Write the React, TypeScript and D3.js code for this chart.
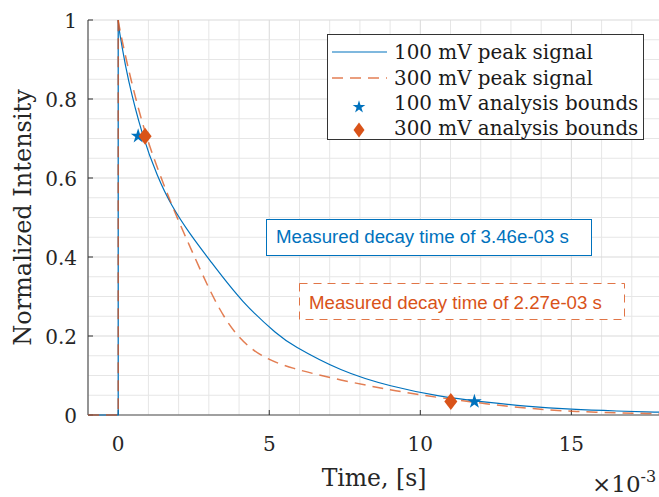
import React from "react";
import * as d3 from "d3";

// ---- data (time in ms units, ×10^-3 s) ----
const t100 = [0, 0.03, 0.11, 0.3, 0.8, 1.3, 1.74, 2.4, 3.0, 4.11, 5.33, 5.71, 7.37, 9.02, 10.68, 12.0, 13.5, 15.0, 16.5, 18.0];
const v100 = [1.0, 0.975, 0.94, 0.856, 0.705, 0.603, 0.532, 0.455, 0.395, 0.283, 0.2, 0.179, 0.110, 0.072, 0.046, 0.034, 0.022, 0.014, 0.010, 0.007];

const t300 = [0, 0.05, 0.39, 0.91, 1.41, 1.79, 2.57, 3.28, 3.93, 4.7, 5.71, 7.37, 9.02, 10.57, 13.0, 15.0, 18.0];
const v300 = [1.0, 0.975, 0.856, 0.705, 0.603, 0.527, 0.392, 0.274, 0.198, 0.148, 0.118, 0.088, 0.063, 0.044, 0.020, 0.008, 0.003];

// pre-trigger baseline (both signals)
const tPre = [-1, 0, 0];
const vPre = [0, 0, 1];

// analysis bounds markers
const bounds100T = [0.66, 11.79];
const bounds100V = [0.706, 0.034];
const bounds300T = [0.89, 11.01];
const bounds300V = [0.706, 0.034];

const xTicks = [0, 5, 10, 15];
const yTicks = [0, 0.2, 0.4, 0.6, 0.8, 1];
const yTickLabels = ["0", "0.2", "0.4", "0.6", "0.8", "1"];

const legendLabels = ["100 mV peak signal", "300 mV peak signal", "100 mV analysis bounds", "300 mV analysis bounds"];
const note100 = "Measured decay time of 3.46e-03 s";
const note300 = "Measured decay time of 2.27e-03 s";

const BLUE = "#0072BD";
const ORANGE = "#D95319";
const SERIF = "'DejaVu Serif', serif";
const SANS = "'Liberation Sans', Arial, sans-serif";

export default function App() {
  const W = 659, H = 497;
  const left = 88, right = 662, top = 20, bottom = 415;
  const x = d3.scaleLinear().domain([-1, 18]).range([left, right]);
  const y = d3.scaleLinear().domain([0, 1]).range([bottom, top]);

  const minorX = d3.range(-1, 19, 1);
  const minorY = d3.range(0, 1.0001, 0.05);

  const lineLin = d3.line<[number, number]>().x(d => x(d[0])).y(d => y(d[1]));
  const lineCurve = d3.line<[number, number]>().x(d => x(d[0])).y(d => y(d[1])).curve(d3.curveBasis);

  const pre: [number, number][] = tPre.map((t, i) => [t, vPre[i]]);
  const s100: [number, number][] = t100.map((t, i) => [t, v100[i]]);
  const s300: [number, number][] = t300.map((t, i) => [t, v300[i]]);

  const star = d3.symbol().type(d3.symbolStar).size(68)();
  const starLeg = d3.symbol().type(d3.symbolStar).size(50)();
  const diamond = (w: number, h: number) => `M0,${-h / 2}L${w / 2},0L0,${h / 2}L${-w / 2},0Z`;

  const legX = 327, legY = 34, legW = 316, legH = 105;
  const rowText = [59, 85, 110, 135];

  return (
    <svg width={W} height={H} style={{ position: "absolute", left: 0, top: 0, background: "#fff" }}>
      <defs>
        <clipPath id="plotclip">
          <rect x={left} y={top - 2} width={right - left} height={bottom - top + 4} />
        </clipPath>
      </defs>
      <rect x={0} y={0} width={W} height={H} fill="#fff" />
      {/* grid */}
      <g>
        {minorX.map(v => (
          <line key={"gx" + v} x1={x(v)} x2={x(v)} y1={top} y2={bottom} stroke={xTicks.includes(v) ? "#d9d9d9" : "#e6e6e6"} strokeWidth={1} />
        ))}
        {minorY.map((v, i) => (
          <line key={"gy" + i} x1={left} x2={right} y1={y(v)} y2={y(v)} stroke={i % 4 === 0 ? "#d9d9d9" : "#e6e6e6"} strokeWidth={1} />
        ))}
      </g>
      {/* axes */}
      <line x1={left} x2={left} y1={top} y2={bottom} stroke="#555" strokeWidth={1.2} />
      <line x1={left} x2={right} y1={bottom} y2={bottom} stroke="#555" strokeWidth={1.2} />
      {xTicks.map(v => (
        <line key={"xt" + v} x1={x(v)} x2={x(v)} y1={bottom} y2={bottom - 5} stroke="#333" strokeWidth={1} />
      ))}
      {yTicks.map(v => (
        <line key={"yt" + v} x1={left} x2={left + 5} y1={y(v)} y2={y(v)} stroke="#333" strokeWidth={1} />
      ))}
      {xTicks.map(v => (
        <text key={"xl" + v} x={x(v)} y={451} textAnchor="middle" fontFamily={SERIF} fontSize={20} fill="#262626">{v}</text>
      ))}
      {yTicks.map((v, i) => (
        <text key={"yl" + v} x={77} y={y(v) + 7.5} textAnchor="end" fontFamily={SERIF} fontSize={20} fill="#262626">{yTickLabels[i]}</text>
      ))}
      <text x={374} y={486} textAnchor="middle" fontFamily={SERIF} fontSize={23.5} fill="#262626">Time, [s]</text>
      <text transform={`translate(31,${(top + bottom) / 2}) rotate(-90)`} textAnchor="middle" fontFamily={SERIF} fontSize={24} fill="#262626">Normalized Intensity</text>
      <text x={592} y={492} fontFamily={SERIF} fontSize={23} fill="#262626">×10<tspan dy={-10} fontSize={16}>-3</tspan></text>

      {/* curves */}
      <g clipPath="url(#plotclip)">
        <path d={lineLin(pre) || ""} fill="none" stroke={BLUE} strokeWidth={1.2} />
        <path d={lineCurve(s100) || ""} fill="none" stroke={BLUE} strokeWidth={1.2} />
        <path d={lineLin(pre) || ""} fill="none" stroke={ORANGE} strokeOpacity={0.75} strokeWidth={1.5} strokeDasharray="11 7" />
        <path d={lineCurve(s300) || ""} fill="none" stroke={ORANGE} strokeOpacity={0.75} strokeWidth={1.5} strokeDasharray="11 7" />
        {bounds100T.map((t, i) => (
          <path key={"s" + i} d={star || ""} transform={`translate(${x(t)},${y(bounds100V[i])})`} fill={BLUE} />
        ))}
        {bounds300T.map((t, i) => (
          <path key={"d" + i} d={diamond(13, 17)} transform={`translate(${x(t)},${y(bounds300V[i])})`} fill={ORANGE} />
        ))}
      </g>

      {/* annotations */}
      <rect x={266.5} y={219.5} width={325} height={36} fill="#fff" stroke={BLUE} strokeWidth={1} />
      <text x={276} y={243} fontFamily={SANS} fontSize={18.7} fill={BLUE}>{note100}</text>
      <rect x={299.5} y={283.5} width={325} height={36} fill="#fff" stroke={ORANGE} strokeOpacity={0.8} strokeWidth={1} strokeDasharray="8 6" />
      <text x={309} y={309} fontFamily={SANS} fontSize={18.7} fill={ORANGE}>{note300}</text>

      {/* legend */}
      <rect x={legX + 0.5} y={legY + 0.5} width={legW} height={legH} fill="#fff" stroke="#333" strokeWidth={1} />
      <line x1={332} x2={387} y1={52} y2={52} stroke={BLUE} strokeWidth={1.2} />
      <line x1={332} x2={387} y1={78} y2={78} stroke={ORANGE} strokeOpacity={0.75} strokeWidth={1.5} strokeDasharray="11 7" />
      <path d={starLeg || ""} transform="translate(359,107)" fill={BLUE} />
      <path d={diamond(11, 15)} transform="translate(359,130)" fill={ORANGE} />
      {legendLabels.map((l, i) => (
        <text key={"lg" + i} x={394} y={rowText[i]} fontFamily={SERIF} fontSize={19.9} fill="#1a1a1a">{l}</text>
      ))}
    </svg>
  );
}
